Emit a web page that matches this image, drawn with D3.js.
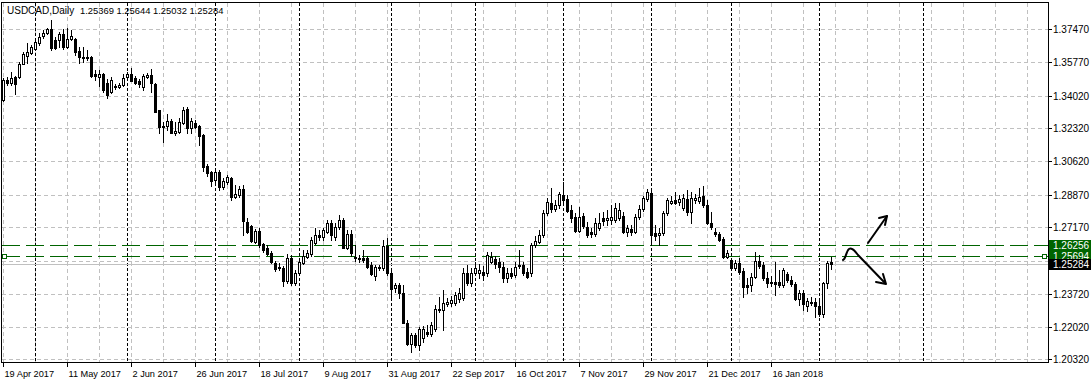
<!DOCTYPE html>
<html>
<head>
<meta charset="utf-8">
<script src="https://cdn.jsdelivr.net/npm/d3@7"></script>
<style>
body { margin: 0; background: #fff; }
svg text { font-family: "Liberation Sans", Arial, sans-serif; font-size: 10px; fill: #000; }
</style>
</head>
<body>
<div id="chart"></div>
<script>
// USDCAD daily, 19 Apr 2017 .. 6 Feb 2018 (one bar per trading day)
var open = [1.3379,1.3486,1.3467,1.3499,1.3497,1.3569,1.3608,1.3626,1.3644,1.3678,1.3712,1.3727,1.3746,1.3691,1.3691,1.3725,1.3655,1.3694,1.3694,1.3634,
1.3605,1.3600,1.3603,1.3514,1.3501,1.3514,1.3467,1.3421,1.3452,1.3449,1.3457,1.3501,1.3517,1.3496,1.3478,1.3447,1.3499,1.3509,1.3465,1.3327,
1.3244,1.3246,1.3270,1.3207,1.3215,1.3262,1.3335,1.3232,1.3261,1.3244,1.3197,1.3036,1.3003,1.2963,1.3003,1.2928,1.2954,1.2972,1.2875,1.2885,
1.2919,1.2746,1.2724,1.2642,1.2699,1.2630,1.2608,1.2585,1.2533,1.2513,1.2504,1.2439,1.2556,1.2429,1.2478,1.2533,1.2564,1.2578,1.2637,1.2677,
1.2665,1.2694,1.2741,1.2665,1.2717,1.2755,1.2613,1.2682,1.2564,1.2557,1.2560,1.2556,1.2521,1.2464,1.2504,1.2504,1.2620,1.2478,1.2405,1.2417,
1.2375,1.2221,1.2114,1.2157,1.2105,1.2141,1.2174,1.2166,1.2187,1.2287,1.2287,1.2318,1.2322,1.2325,1.2343,1.2348,1.2478,1.2426,1.2481,1.2478,
1.2486,1.2478,1.2538,1.2551,1.2538,1.2512,1.2452,1.2478,1.2469,1.2521,1.2521,1.2486,1.2481,1.2625,1.2642,1.2677,1.2790,1.2842,1.2811,1.2833,
1.2885,1.2863,1.2807,1.2772,1.2699,1.2776,1.2720,1.2694,1.2682,1.2713,1.2764,1.2755,1.2755,1.2755,1.2765,1.2776,1.2694,1.2707,1.2694,1.2769,
1.2811,1.2863,1.2897,1.2689,1.2677,1.2686,1.2790,1.2845,1.2859,1.2850,1.2816,1.2863,1.2797,1.2859,1.2855,1.2880,1.2833,1.2738,1.2694,1.2682,
1.2655,1.2564,1.2547,1.2509,1.2533,1.2491,1.2417,1.2417,1.2461,1.2543,1.2521,1.2457,1.2426,1.2434,1.2434,1.2417,1.2474,1.2443,1.2422,1.2343,
1.2374,1.2308,1.2326,1.2330,1.2308,1.2266,1.2426,1.25369];

var high = [1.3493,1.3499,1.3525,1.3504,1.3577,1.3629,1.3675,1.3665,1.3696,1.3727,1.3743,1.3753,1.3795,1.3707,1.3735,1.3748,1.3753,1.3743,1.3701,1.3657,
1.3655,1.3639,1.3608,1.3535,1.3535,1.3519,1.3488,1.3499,1.3462,1.3467,1.3514,1.3527,1.3545,1.3504,1.3488,1.3514,1.3519,1.3540,1.3467,1.3327,
1.3267,1.3306,1.3280,1.3266,1.3285,1.3344,1.3343,1.3285,1.3275,1.3249,1.3202,1.3046,1.3010,1.3015,1.3015,1.2973,1.2989,1.2979,1.2937,1.2932,
1.2937,1.2765,1.2729,1.2708,1.2713,1.2635,1.2625,1.2594,1.2542,1.2531,1.2516,1.2578,1.2573,1.2495,1.2557,1.2599,1.2599,1.2667,1.2713,1.2703,
1.2713,1.2755,1.2755,1.2739,1.2781,1.2765,1.2703,1.2703,1.2625,1.2573,1.2599,1.2568,1.2537,1.2521,1.2521,1.2651,1.2661,1.2490,1.2427,1.2427,
1.2417,1.2235,1.2167,1.2167,1.2200,1.2204,1.2209,1.2225,1.2313,1.2356,1.2391,1.2349,1.2360,1.2381,1.2401,1.2505,1.2521,1.2505,1.2537,1.2526,
1.2516,1.2588,1.2588,1.2568,1.2557,1.2537,1.2505,1.2505,1.2537,1.2599,1.2537,1.2505,1.2635,1.2672,1.2703,1.2807,1.2870,1.2921,1.2859,1.2902,
1.2954,1.2885,1.2833,1.2791,1.2824,1.2791,1.2745,1.2713,1.2765,1.2790,1.2797,1.2807,1.2833,1.2843,1.2843,1.2797,1.2729,1.2729,1.2786,1.2833,
1.2880,1.2916,1.2911,1.2729,1.2713,1.2802,1.2870,1.2880,1.2901,1.2885,1.2890,1.2911,1.2901,1.2890,1.2921,1.2932,1.2859,1.2797,1.2713,1.2693,
1.2667,1.2599,1.2557,1.2547,1.2557,1.2505,1.2453,1.2479,1.2590,1.2573,1.2537,1.2485,1.2464,1.2538,1.2495,1.2505,1.2485,1.2464,1.2433,1.2391,
1.2391,1.2349,1.2355,1.2349,1.2339,1.2433,1.2542,1.25644];

var low = [1.3374,1.3457,1.3457,1.3410,1.3493,1.3566,1.3571,1.3618,1.3639,1.3665,1.3701,1.3722,1.3639,1.3644,1.3657,1.3647,1.3649,1.3691,1.3613,1.3571,
1.3577,1.3587,1.3499,1.3483,1.3452,1.3421,1.3389,1.3415,1.3436,1.3441,1.3452,1.3483,1.3478,1.3462,1.3447,1.3431,1.3493,1.3421,1.3317,1.3210,
1.3163,1.3223,1.3207,1.3197,1.3207,1.3257,1.3206,1.3207,1.3233,1.3145,1.3010,1.2984,1.2932,1.2937,1.2911,1.2916,1.2942,1.2859,1.2869,1.2875,
1.2677,1.2687,1.2641,1.2636,1.2615,1.2589,1.2573,1.2531,1.2490,1.2495,1.2412,1.2427,1.2417,1.2417,1.2469,1.2526,1.2557,1.2568,1.2630,1.2651,
1.2651,1.2687,1.2651,1.2651,1.2708,1.2609,1.2604,1.2568,1.2542,1.2537,1.2537,1.2505,1.2469,1.2443,1.2495,1.2495,1.2469,1.2339,1.2381,1.2349,
1.2219,1.2105,1.2070,1.2095,1.2079,1.2121,1.2152,1.2152,1.2178,1.2277,1.2183,1.2308,1.2308,1.2313,1.2329,1.2339,1.2417,1.2412,1.2469,1.2453,
1.2443,1.2464,1.2531,1.2505,1.2484,1.2433,1.2433,1.2453,1.2459,1.2505,1.2469,1.2453,1.2464,1.2615,1.2636,1.2667,1.2781,1.2797,1.2802,1.2817,
1.2849,1.2797,1.2745,1.2693,1.2693,1.2713,1.2667,1.2667,1.2672,1.2703,1.2729,1.2729,1.2734,1.2745,1.2755,1.2687,1.2672,1.2677,1.2687,1.2760,
1.2802,1.2854,1.2625,1.2651,1.2625,1.2677,1.2781,1.2838,1.2838,1.2833,1.2807,1.2781,1.2740,1.2843,1.2843,1.2823,1.2734,1.2708,1.2672,1.2646,
1.2557,1.2557,1.2505,1.2495,1.2474,1.2355,1.2375,1.2386,1.2453,1.2505,1.2443,1.2407,1.2412,1.2365,1.2407,1.2407,1.2433,1.2412,1.2339,1.2313,
1.2287,1.2282,1.2313,1.2251,1.2256,1.2252,1.2401,1.25032];

var close = [1.3483,1.3467,1.3496,1.3462,1.3569,1.3621,1.3629,1.3655,1.3681,1.3707,1.3727,1.3746,1.3649,1.3649,1.3720,1.3655,1.3694,1.3712,1.3631,1.3605,
1.3600,1.3603,1.3504,1.3504,1.3514,1.3431,1.3405,1.3483,1.3447,1.3457,1.3496,1.3514,1.3480,1.3470,1.3462,1.3504,1.3509,1.3467,1.3319,1.3241,
1.3241,1.3270,1.3210,1.3219,1.3266,1.3330,1.3232,1.3270,1.3240,1.3192,1.3032,1.2999,1.2959,1.3003,1.2927,1.2958,1.2977,1.2876,1.2890,1.2919,
1.2750,1.2694,1.2647,1.2699,1.2625,1.2599,1.2578,1.2538,1.2500,1.2505,1.2439,1.2556,1.2426,1.2478,1.2538,1.2568,1.2585,1.2651,1.2677,1.2665,
1.2703,1.2741,1.2677,1.2720,1.2755,1.2613,1.2682,1.2582,1.2556,1.2560,1.2550,1.2512,1.2474,1.2512,1.2512,1.2620,1.2478,1.2395,1.2417,1.2374,
1.2221,1.2114,1.2157,1.2105,1.2187,1.2192,1.2162,1.2209,1.2291,1.2296,1.2322,1.2330,1.2339,1.2365,1.2374,1.2478,1.2426,1.2478,1.2504,1.2495,
1.2469,1.2573,1.2564,1.2525,1.2512,1.2452,1.2478,1.2464,1.2512,1.2516,1.2478,1.2461,1.2625,1.2647,1.2677,1.2790,1.2850,1.2811,1.2833,1.2890,
1.2859,1.2803,1.2764,1.2699,1.2772,1.2724,1.2677,1.2682,1.2738,1.2739,1.2751,1.2767,1.2772,1.2816,1.2807,1.2694,1.2712,1.2694,1.2769,1.2811,
1.2868,1.2902,1.2677,1.2672,1.2687,1.2790,1.2859,1.2855,1.2846,1.2863,1.2868,1.2798,1.2868,1.2868,1.2876,1.2833,1.2738,1.2717,1.2682,1.2651,
1.2564,1.2582,1.2509,1.2533,1.2486,1.2408,1.2408,1.2461,1.2543,1.2516,1.2457,1.2426,1.2434,1.2422,1.2417,1.2495,1.2443,1.2422,1.2343,1.2374,
1.2318,1.2335,1.2331,1.2308,1.2266,1.2426,1.2533,1.25284];

// time axis labels, one every 16 bars
var dateLabels = ["19 Apr 2017", "11 May 2017", "2 Jun 2017", "26 Jun 2017", "18 Jul 2017", "9 Aug 2017", "31 Aug 2017",
    "22 Sep 2017", "16 Oct 2017", "7 Nov 2017", "29 Nov 2017", "21 Dec 2017", "16 Jan 2018"];
// bar index of the first bar of each month (period separators)
var monthStarts = [8, 31, 53, 74, 97, 118, 140, 162, 182, 204, 230];

// grid levels; the one hidden behind the price boxes has no label
var priceGrid = [1.37470, 1.35770, 1.34020, 1.32320, 1.30620, 1.28870, 1.27170, 1.25450, 1.23720, 1.22020, 1.20320];
var priceLabels = [1.37470, 1.35770, 1.34020, 1.32320, 1.30620, 1.28870, 1.27170, 1.23720, 1.22020, 1.20320];
var hLines = [1.26256, 1.25694];
var bidPrice = 1.25284;
var title = "USDCAD,Daily";
var ohlcText = "1.25369 1.25644 1.25032 1.25284";

var svgWidth = 1091;
var svgHeight = 383;
var frame = { left: 1.5, right: 1048.5, top: 2.5, bottom: 362.5 };

var svg = d3.select("#chart")
    .append("svg")
    .attr("width", svgWidth)
    .attr("height", svgHeight)
    .style("display", "block");

svg.append("rect").attr("width", svgWidth).attr("height", svgHeight).attr("fill", "#fff");

// 4px per bar
var xScale = d3.scaleLinear().domain([0, 1]).range([3.5, 7.5]);
var yScale = d3.scaleLinear().domain([1.20320, 1.37470]).range([359.3, 29.3]);
function py(v) { return Math.round(yScale(v)) + 0.5; }
function pr(v) { return Math.round(yScale(v)); }

var g = svg.append("g").attr("shape-rendering", "crispEdges");

// grid
g.selectAll(".hgrid")
    .data(priceGrid)
    .enter()
    .append("line")
    .attr("x1", frame.left).attr("x2", frame.right)
    .attr("y1", d => py(d)).attr("y2", d => py(d))
    .attr("stroke", "#c0c0c0")
    .attr("stroke-dasharray", "4,3");

g.selectAll(".vgrid")
    .data(d3.range(0, 260, 8))
    .enter()
    .append("line")
    .attr("x1", d => xScale(d)).attr("x2", d => xScale(d))
    .attr("y1", frame.top).attr("y2", frame.bottom)
    .attr("stroke", "#c0c0c0")
    .attr("stroke-dasharray", "4,3");

// period separators
g.selectAll(".sep")
    .data(monthStarts)
    .enter()
    .append("line")
    .attr("x1", d => xScale(d)).attr("x2", d => xScale(d))
    .attr("y1", frame.top).attr("y2", frame.bottom)
    .attr("stroke", "#000")
    .attr("stroke-dasharray", "3,2");

// bid line
g.append("line")
    .attr("x1", frame.left).attr("x2", frame.right)
    .attr("y1", py(bidPrice)).attr("y2", py(bidPrice))
    .attr("stroke", "#c0c0c0");

// horizontal levels
g.selectAll(".level")
    .data(hLines)
    .enter()
    .append("line")
    .attr("x1", frame.left).attr("x2", frame.right)
    .attr("y1", d => py(d)).attr("y2", d => py(d))
    .attr("stroke", "#006400")
    .attr("stroke-dasharray", "18,6");

// candles
var bars = d3.range(close.length);

g.selectAll(".wick")
    .data(bars)
    .enter()
    .append("line")
    .attr("x1", i => xScale(i)).attr("x2", i => xScale(i))
    .attr("y1", i => pr(high[i])).attr("y2", i => pr(low[i]) + 1)
    .attr("stroke", "#000");

g.selectAll(".body")
    .data(bars)
    .enter()
    .append("rect")
    .attr("x", i => close[i] >= open[i] ? xScale(i) - 1 : xScale(i) - 1.5)
    .attr("y", i => close[i] >= open[i] ? pr(close[i]) + 0.5 : pr(open[i]))
    .attr("width", i => close[i] >= open[i] ? 2 : 3)
    .attr("height", i => close[i] >= open[i]
        ? Math.max(pr(open[i]) - pr(close[i]), 1)
        : Math.max(pr(close[i]) - pr(open[i]) + 1, 1))
    .attr("fill", i => close[i] >= open[i] ? "#fff" : "#000")
    .attr("stroke", i => close[i] >= open[i] ? "#000" : "none");

// markers on the selected level
g.selectAll(".marker")
    .data([5, 1045])
    .enter()
    .append("rect")
    .attr("x", d => d - 2.5)
    .attr("y", py(hLines[1]) - 2)
    .attr("width", 4).attr("height", 4)
    .attr("fill", "#fff")
    .attr("stroke", "#006400");

// frame
g.append("rect")
    .attr("x", frame.left).attr("y", frame.top)
    .attr("width", frame.right - frame.left)
    .attr("height", frame.bottom - frame.top)
    .attr("fill", "none")
    .attr("stroke", "#000");

// price axis
g.selectAll(".ptick")
    .data(priceGrid)
    .enter()
    .append("line")
    .attr("x1", frame.right).attr("x2", frame.right + 3)
    .attr("y1", d => py(d)).attr("y2", d => py(d))
    .attr("stroke", "#000");

svg.selectAll(".plabel")
    .data(priceLabels)
    .enter()
    .append("text")
    .attr("x", 1053)
    .attr("y", d => py(d))
    .attr("dy", "0.35em")
    .text(d => d.toFixed(5));

// price boxes
var boxes = [
    { v: hLines[0], fill: "#006400" },
    { v: hLines[1], fill: "#006400" },
    { v: bidPrice, fill: "#000" }
];
boxes.forEach(function (b) {
    svg.append("rect")
        .attr("x", 1049).attr("y", Math.round(yScale(b.v)) - 5)
        .attr("width", svgWidth - 1049).attr("height", 11)
        .attr("fill", b.fill);
    svg.append("text")
        .attr("x", 1053)
        .attr("y", Math.round(yScale(b.v)) + 0.5)
        .attr("dy", "0.35em")
        .style("fill", "#fff")
        .text(b.v.toFixed(5));
});

// time axis
g.selectAll(".ttick")
    .data(dateLabels)
    .enter()
    .append("line")
    .attr("x1", (d, k) => xScale(16 * k)).attr("x2", (d, k) => xScale(16 * k))
    .attr("y1", frame.bottom).attr("y2", frame.bottom + 4)
    .attr("stroke", "#000");

svg.selectAll(".tlabel")
    .data(dateLabels)
    .enter()
    .append("text")
    .attr("x", (d, k) => xScale(16 * k) + 1)
    .attr("y", 377)
    .style("font-size", "9.2px")
    .text(d => d);

// title
svg.append("text").attr("x", 7).attr("y", 14).text(title);
svg.append("text").attr("x", 80).attr("y", 14).style("font-size", "9.4px").text(ohlcText);

// hand-drawn arrows
var pen = svg.append("g")
    .attr("fill", "none")
    .attr("stroke", "#000")
    .attr("stroke-width", 2)
    .attr("stroke-linecap", "round")
    .attr("stroke-linejoin", "round");

pen.append("path").attr("d", "M843,260 C846,259 846,251 849,249 C852,247 855,251 858,255 L885,283");
pen.append("path").attr("d", "M876,282 L886,284 L883,274");
pen.append("path").attr("d", "M868,243 L887,216");
pen.append("path").attr("d", "M879,218 L887,216 L885,225");
</script>
</body>
</html>
